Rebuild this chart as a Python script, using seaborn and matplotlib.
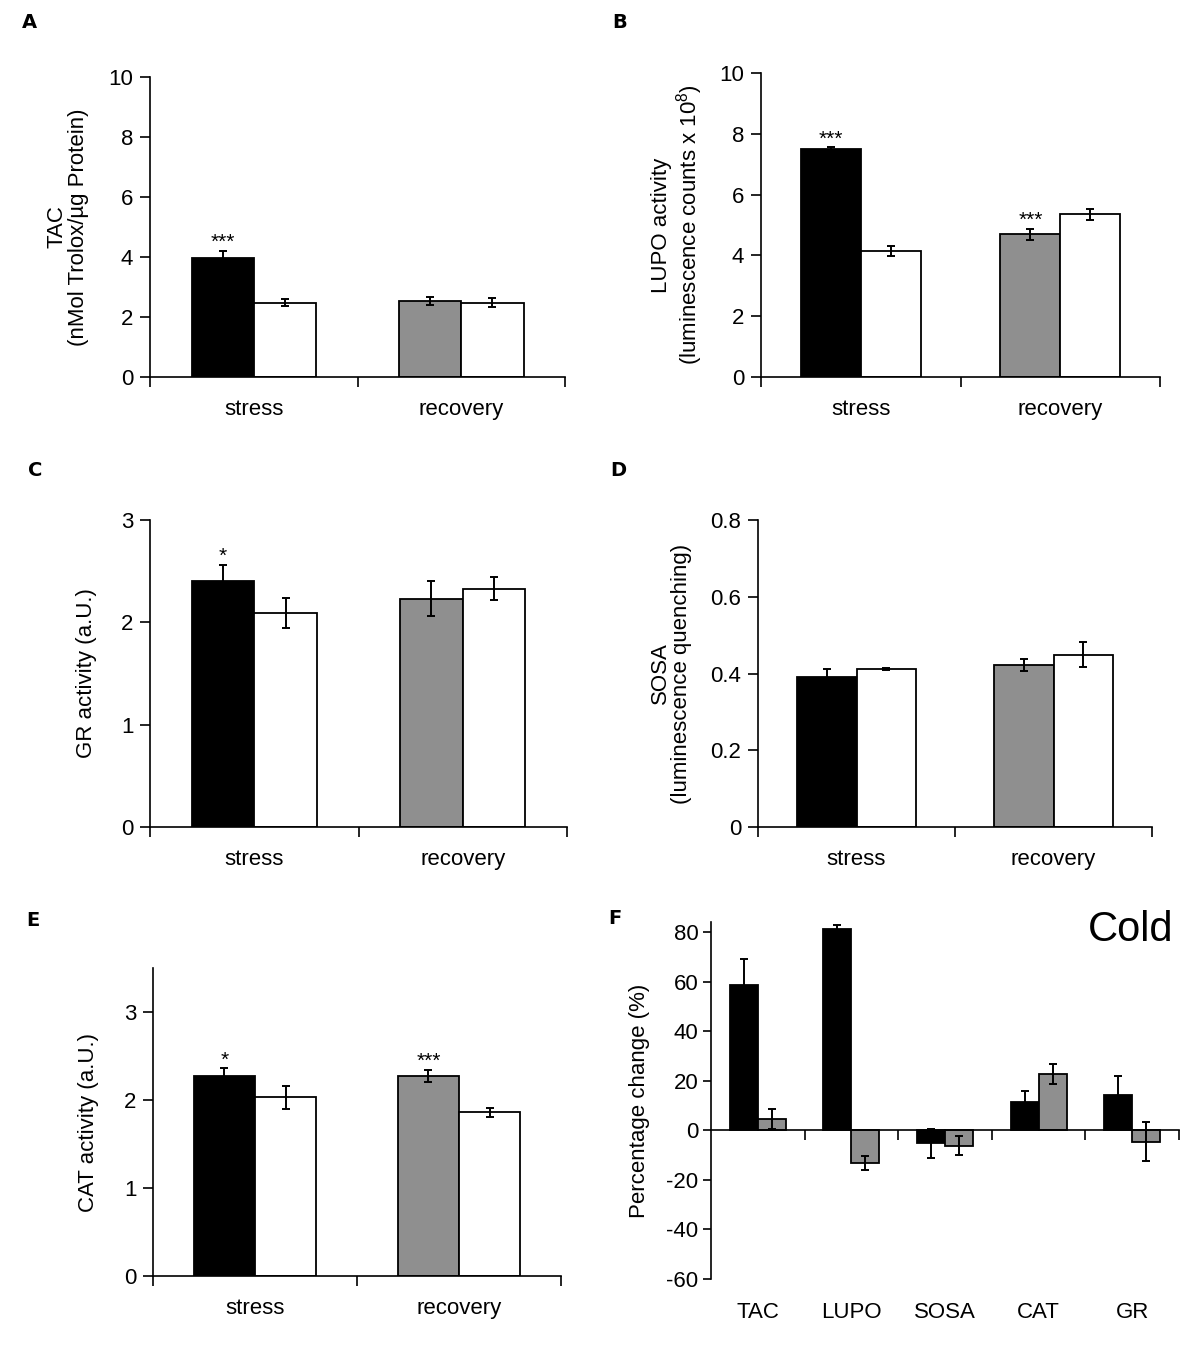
import matplotlib
matplotlib.use('Agg')
import matplotlib.pyplot as plt
import seaborn as sns
import pandas as pd

# ---------------- data ----------------
phases = ['stress', 'recovery']
conditions = ['cold', 'control']

tac_cold = [3.96, 2.54]
tac_cold_err = [0.25, 0.13]
tac_ctrl = [2.48, 2.48]
tac_ctrl_err = [0.13, 0.16]
tac_stars = ['***', '']

lupo_cold = [7.49, 4.70]
lupo_cold_err = [0.06, 0.18]
lupo_ctrl = [4.14, 5.36]
lupo_ctrl_err = [0.16, 0.18]
lupo_stars = ['***', '***']

gr_cold = [2.40, 2.23]
gr_cold_err = [0.16, 0.17]
gr_ctrl = [2.09, 2.33]
gr_ctrl_err = [0.145, 0.11]
gr_stars = ['*', '']

sosa_cold = [0.390, 0.422]
sosa_cold_err = [0.021, 0.015]
sosa_ctrl = [0.411, 0.449]
sosa_ctrl_err = [0.003, 0.033]
sosa_stars = ['', '']

cat_cold = [2.27, 2.27]
cat_cold_err = [0.09, 0.07]
cat_ctrl = [2.03, 1.86]
cat_ctrl_err = [0.13, 0.05]
cat_stars = ['*', '***']

f_markers = ['TAC', 'LUPO', 'SOSA', 'CAT', 'GR']
f_series = ['stress', 'recovery']
f_stress = [58.4, 81.1, -5.2, 11.2, 14.3]
f_stress_err = [10.7, 1.6, 5.8, 4.8, 7.5]
f_recovery = [4.4, -13.2, -6.2, 22.6, -4.6]
f_recovery_err = [4.0, 3.0, 3.9, 4.0, 7.9]

GRAY = '#8f8f8f'

# ---------------- style ----------------
sns.set_style('ticks')
plt.rcParams['font.family'] = ['Liberation Sans', 'DejaVu Sans']
plt.rcParams['axes.unicode_minus'] = False
plt.rcParams['mathtext.fontset'] = 'custom'
plt.rcParams['mathtext.rm'] = 'Liberation Sans'
plt.rcParams['axes.linewidth'] = 1.2
plt.rcParams['axes.edgecolor'] = 'black'
plt.rcParams['text.color'] = 'black'
plt.rcParams['axes.labelcolor'] = 'black'
plt.rcParams['xtick.color'] = 'black'
plt.rcParams['ytick.color'] = 'black'

W, H = 1200, 1345
fig = plt.figure(figsize=(W / 100, H / 100), dpi=100)


def px_axes(left, right, top, bottom):
    return fig.add_axes([left / W, 1 - bottom / H, (right - left) / W, (bottom - top) / H])


FS = 16


def bar_panel(ax, cold, cold_err, ctrl, ctrl_err, stars, ylim, yticks,
              yticklabels, ylabel, label_x):
    df = pd.DataFrame({
        'phase': phases + phases,
        'condition': ['cold'] * len(phases) + ['control'] * len(phases),
        'value': list(cold) + list(ctrl),
    })
    sns.barplot(data=df, x='phase', y='value', hue='condition', order=phases,
                hue_order=conditions,
                palette={'cold': 'black', 'control': 'white'},
                width=0.6, errorbar=None, edgecolor='black', linewidth=1.3,
                legend=False, ax=ax, zorder=2)
    cold_bars = sorted(ax.containers[0], key=lambda p: p.get_x())
    ctrl_bars = sorted(ax.containers[1], key=lambda p: p.get_x())
    cold_bars[1].set_facecolor(GRAY)
    for bars, errs in ((cold_bars, cold_err), (ctrl_bars, ctrl_err)):
        xs = [p.get_x() + p.get_width() / 2 for p in bars]
        ys = [p.get_height() for p in bars]
        ax.errorbar(xs, ys, yerr=errs, fmt='none', ecolor='black',
                    elinewidth=1.4, capsize=3, capthick=1.4, zorder=5)
    for p, e, s in zip(cold_bars, cold_err, stars):
        if s:
            ax.annotate(s, (p.get_x() + p.get_width() / 2, p.get_height() + e),
                        xytext=(0, 2), textcoords='offset points',
                        ha='center', va='baseline', fontsize=15)
    ax.set_xlim(-0.5, len(phases) - 0.5)
    ax.set_ylim(*ylim)
    ax.set_yticks(yticks)
    ax.set_yticklabels(yticklabels)
    ax.set_xticks([-0.5 + i for i in range(len(phases) + 1)])
    ax.set_xticklabels([])
    ax.set_xticks(range(len(phases)), minor=True)
    ax.set_xticklabels(phases, minor=True)
    ax.tick_params(axis='x', which='minor', length=0, pad=16, labelsize=FS)
    ax.tick_params(axis='x', which='major', length=7, width=1.2, direction='out')
    ax.tick_params(axis='y', length=7, width=1.2, pad=5, labelsize=FS,
                   direction='out')
    sns.despine(ax=ax)
    ax.set_xlabel('')
    ax.set_ylabel(ylabel, fontsize=FS, va='center', linespacing=1.05)
    ax.yaxis.set_label_coords(label_x, 0.5)


axA = px_axes(150, 565, 77, 377)
bar_panel(axA, tac_cold, tac_cold_err, tac_ctrl, tac_ctrl_err, tac_stars,
          (0, 10), [0, 2, 4, 6, 8, 10], ['0', '2', '4', '6', '8', '10'],
          'TAC\n(nMol Trolox/µg Protein)', -0.198)

axB = px_axes(761, 1160, 73, 377)
bar_panel(axB, lupo_cold, lupo_cold_err, lupo_ctrl, lupo_ctrl_err, lupo_stars,
          (0, 10), [0, 2, 4, 6, 8, 10], ['0', '2', '4', '6', '8', '10'],
          'LUPO activity\n(luminescence counts x 10$\\mathregular{^8}$)', -0.208)

axC = px_axes(150, 567, 520, 827)
bar_panel(axC, gr_cold, gr_cold_err, gr_ctrl, gr_ctrl_err, gr_stars,
          (0, 3), [0, 1, 2, 3], ['0', '1', '2', '3'],
          'GR activity (a.U.)', -0.153)

axD = px_axes(758, 1152, 520, 827)
bar_panel(axD, sosa_cold, sosa_cold_err, sosa_ctrl, sosa_ctrl_err, sosa_stars,
          (0, 0.8), [0, 0.2, 0.4, 0.6, 0.8], ['0', '0.2', '0.4', '0.6', '0.8'],
          'SOSA\n(luminescence quenching)', -0.221)

axE = px_axes(153, 561, 968, 1276)
bar_panel(axE, cat_cold, cat_cold_err, cat_ctrl, cat_ctrl_err, cat_stars,
          (0, 3.5), [0, 1, 2, 3], ['0', '1', '2', '3'],
          'CAT activity (a.U.)', -0.157)

# ---------------- panel F ----------------
axF = px_axes(711, 1179, 922, 1279)
dfF = pd.DataFrame({
    'marker': f_markers + f_markers,
    'series': ['stress'] * len(f_markers) + ['recovery'] * len(f_markers),
    'value': f_stress + f_recovery,
})
sns.barplot(data=dfF, x='marker', y='value', hue='series', order=f_markers,
            hue_order=f_series, palette={'stress': 'black', 'recovery': GRAY},
            width=0.6, errorbar=None, edgecolor='black', linewidth=1.3,
            legend=False, ax=axF, zorder=2)
for cont, errs in zip(axF.containers, (f_stress_err, f_recovery_err)):
    bars = sorted(cont, key=lambda p: p.get_x())
    xs = [p.get_x() + p.get_width() / 2 for p in bars]
    ys = [p.get_y() + p.get_height() for p in bars]
    axF.errorbar(xs, ys, yerr=errs, fmt='none', ecolor='black',
                 elinewidth=1.4, capsize=3, capthick=1.4, zorder=5)
axF.set_xlim(-0.5, len(f_markers) - 0.5)
axF.set_ylim(-60, 84)
axF.set_yticks(range(-60, 81, 20))
axF.set_yticklabels([str(v) for v in range(-60, 81, 20)])
axF.set_xticks([0.5 + i for i in range(len(f_markers))])
axF.set_xticklabels([])
axF.set_xticks(range(len(f_markers)), minor=True)
axF.set_xticklabels(f_markers, minor=True)
axF.spines['bottom'].set_position(('data', 0))
axF.tick_params(axis='x', which='minor', length=0, pad=124, labelsize=FS)
axF.tick_params(axis='x', which='major', length=7, width=1.2, direction='out')
axF.tick_params(axis='y', length=6, width=1.2, pad=3, labelsize=FS,
                direction='out')
sns.despine(ax=axF)
axF.set_xlabel('')
axF.set_ylabel('Percentage change (%)', fontsize=FS, va='center')
axF.yaxis.set_label_coords(-0.152, 0.5)
axF.text(0.897, 0.978, 'Cold', transform=axF.transAxes, ha='center',
         va='center', fontsize=30)

# ---------------- panel letters ----------------
for letter, (x, y) in zip('ABCDEF', [(29, 22), (620, 22), (35, 470),
                                     (618, 470), (33, 920), (615, 918)]):
    fig.text(x / W, 1 - y / H, letter, fontsize=14, fontweight='bold',
             family='DejaVu Sans', ha='center', va='center')

fig.savefig('out.png', dpi=100, facecolor='white')
